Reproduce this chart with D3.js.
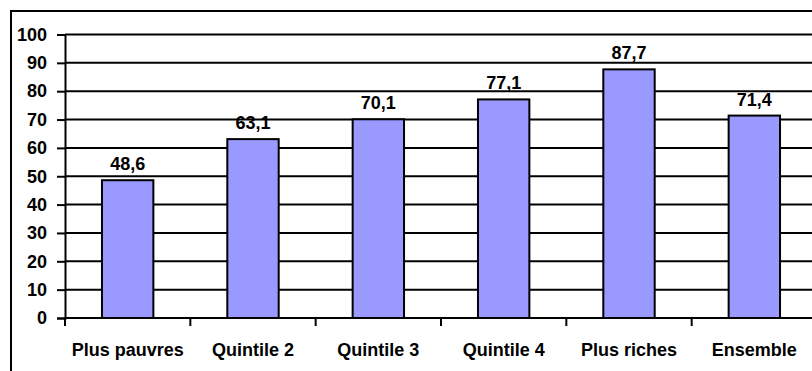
<!DOCTYPE html>
<html lang="fr">
<head>
  <meta charset="UTF-8">
  <title>Quintiles</title>
  <script src="https://cdn.jsdelivr.net/npm/d3@7"></script>
  <style>
    body { margin: 0; background: #fff; }
    text { font-family: "Liberation Sans", Arial, sans-serif; font-weight: bold; fill: #000; }
  </style>
</head>
<body>
  <svg width="812" height="371"></svg>
  <script>
    var categories = ["Plus pauvres", "Quintile 2", "Quintile 3", "Quintile 4", "Plus riches", "Ensemble"];
    var values = [48.6, 63.1, 70.1, 77.1, 87.7, 71.4];
    var yTicks = [0, 10, 20, 30, 40, 50, 60, 70, 80, 90, 100];

    var svg = d3.select("svg");
    var plot = {left: 65, right: 817, top: 34.5, bottom: 318};

    // cadre
    svg.append("rect")
        .attr("x", 11).attr("y", 11)
        .attr("width", 900).attr("height", 500)
        .attr("fill", "#fff")
        .attr("stroke", "#000")
        .attr("stroke-width", 2);

    var x = d3.scaleBand()
        .domain(categories)
        .range([plot.left, plot.right])
        .paddingInner(0.59)
        .paddingOuter(0.295);

    var y = d3.scaleLinear().domain([0, 100]).range([plot.bottom, plot.top]);

    var fmt = function(v) { return d3.format(".1f")(v).replace(".", ","); };

    // grille
    svg.append("g")
      .selectAll("line")
      .data(yTicks.slice(1))
      .join("line")
        .attr("x1", plot.left).attr("x2", 812)
        .attr("y1", function(d) { return y(d); })
        .attr("y2", function(d) { return y(d); })
        .attr("stroke", "#000")
        .attr("stroke-width", 2);

    // axe y
    var yAxis = svg.append("g")
        .attr("transform", "translate(" + plot.left + ",0)")
        .call(d3.axisLeft(y).tickValues(yTicks).tickSize(8).tickPadding(10));
    yAxis.select(".domain").attr("stroke-width", 2);
    yAxis.selectAll(".tick line").attr("stroke-width", 2);
    yAxis.selectAll("text")
        .style("font-size", "18px")
        .style("font-family", "'Liberation Sans', Arial, sans-serif")
        .attr("fill", "#000");

    // barres
    svg.append("g")
      .selectAll("rect")
      .data(values)
      .join("rect")
        .attr("x", function(d, i) { return x(categories[i]); })
        .attr("y", function(d) { return y(d); })
        .attr("width", x.bandwidth())
        .attr("height", function(d) { return y(0) - y(d); })
        .attr("fill", "#9999ff")
        .attr("stroke", "#000")
        .attr("stroke-width", 2);

    // valeurs
    svg.append("g")
      .selectAll("text")
      .data(values)
      .join("text")
        .attr("x", function(d, i) { return x(categories[i]) + x.bandwidth() / 2; })
        .attr("y", function(d) { return y(d) - 10; })
        .attr("text-anchor", "middle")
        .style("font-size", "18px")
        .text(fmt);

    // axe x
    var step = x.step();
    var xAxis = svg.append("g").attr("transform", "translate(0," + plot.bottom + ")");
    xAxis.append("line")
        .attr("x1", plot.left).attr("x2", 812)
        .attr("stroke", "#000").attr("stroke-width", 2);
    xAxis.selectAll(".xt")
      .data(categories)
      .join("line")
        .attr("class", "xt")
        .attr("x1", function(d, i) { return plot.left + i * step; })
        .attr("x2", function(d, i) { return plot.left + i * step; })
        .attr("y1", 0).attr("y2", 8)
        .attr("stroke", "#000").attr("stroke-width", 2);
    xAxis.selectAll("text")
      .data(categories)
      .join("text")
        .attr("x", function(d) { return x(d) + x.bandwidth() / 2; })
        .attr("y", 38)
        .attr("text-anchor", "middle")
        .style("font-size", "18px")
        .text(function(d) { return d; });
  </script>
</body>
</html>
